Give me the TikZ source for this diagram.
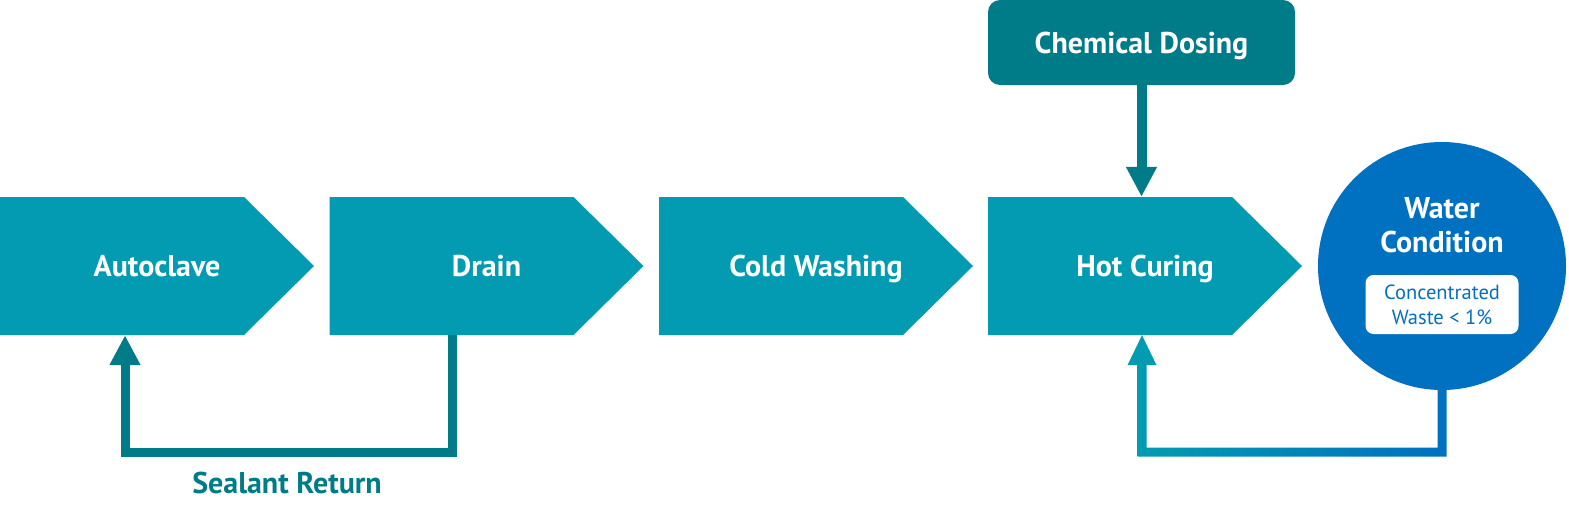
\documentclass[tikz,border=0pt]{standalone}
\usepackage{fontspec}
\setmainfont{PT Sans}
\usetikzlibrary{arrows.meta,calc}
\definecolor{stepc}{HTML}{029BB2}
\definecolor{darkc}{HTML}{007C89}
\definecolor{bluec}{HTML}{0070C0}
\begin{document}
\begin{tikzpicture}[x=1pt,y=-1pt,
  bigfont/.style={font=\fontsize{30}{34}\selectfont\bfseries,text height=28pt,text depth=7pt},
  stepbox/.style={bigfont,minimum width=314pt,minimum height=138pt,inner sep=0pt,
    text=white,
    path picture={\fill[stepc] (path picture bounding box.south west)
      -- ([xshift=-70pt]path picture bounding box.south east)
      -- (path picture bounding box.east)
      -- ([xshift=-70pt]path picture bounding box.north east)
      -- (path picture bounding box.north west) -- cycle;}},
  dosebox/.style={bigfont,fill=darkc,rounded corners=12pt,minimum width=307pt,minimum height=85pt,
    inner sep=0pt,text=white},
  wcirc/.style={circle,fill=bluec,minimum size=248pt,inner sep=0pt},
  wtext/.style={text=white,font=\fontsize{30}{34}\selectfont\bfseries,align=center,inner sep=0pt},
  wbox/.style={fill=white,rounded corners=8pt,minimum width=153pt,minimum height=59pt,
    inner sep=0pt,text=bluec,font=\fontsize{20.5}{25}\selectfont,align=center},
  looparrow/.style={draw=darkc,line width=9pt,-{Triangle[width=29pt,length=30pt]}},
  dosearrow/.style={draw=darkc,line width=10pt,-{Triangle[width=29pt,length=30pt]}},
  lbl/.style={bigfont,text=darkc,inner sep=0pt}
]
\useasboundingbox[fill=white] (0,0) rectangle (1569,517);

\node[stepbox] (ac) at (157,266) {Autoclave};
\node[stepbox] (dr) at (486.5,266) {Drain};
\node[stepbox] (cw) at (816,266) {Cold Washing};
\node[stepbox] (hc) at (1145,266) {Hot Curing};

\node[dosebox] (cd) at (1141.5,42.5) {Chemical Dosing};

\node[wcirc] (wc) at (1442,266) {};
\node[wtext] (wt) at (1442,225) {Water\\Condition};
\node[wbox] (wb) at (1442,304.5) {Concentrated\\Waste < 1\%};

% chemical dosing arrow
\draw[dosearrow] (cd.south) -- (cd.south |- hc.north);

% sealant return
\coordinate (drout) at ([xshift=-34.5pt]dr.south);
\coordinate (acin) at ([xshift=-32pt]ac.south);
\draw[looparrow,line join=miter] (drout) -- ++(0,117) -| (acin);
\node[lbl] (sr) at (287,483) {Sealant Return};

% water return (gradient)
\coordinate (hcin) at ([xshift=-3pt]hc.south);
\coordinate (wcout) at (wc.south);
\shade[left color=stepc,right color=bluec]
  ($(hcin)+(-4.5,29)$) -- ($(hcin |- 0,456.5)+(-4.5,0)$)
  -- ($(wcout |- 0,456.5)+(4.5,0)$) -- ($(wcout)+(4.5,-1)$)
  -- ($(wcout)+(-4.5,-1)$) -- ($(wcout |- 0,447.5)+(-4.5,0)$)
  -- ($(hcin |- 0,447.5)+(4.5,0)$) -- ($(hcin)+(4.5,29)$) -- cycle;
\fill[stepc] (hcin) -- ++(-14.5,30) -- ++(29,0) -- cycle;
\end{tikzpicture}
\end{document}
